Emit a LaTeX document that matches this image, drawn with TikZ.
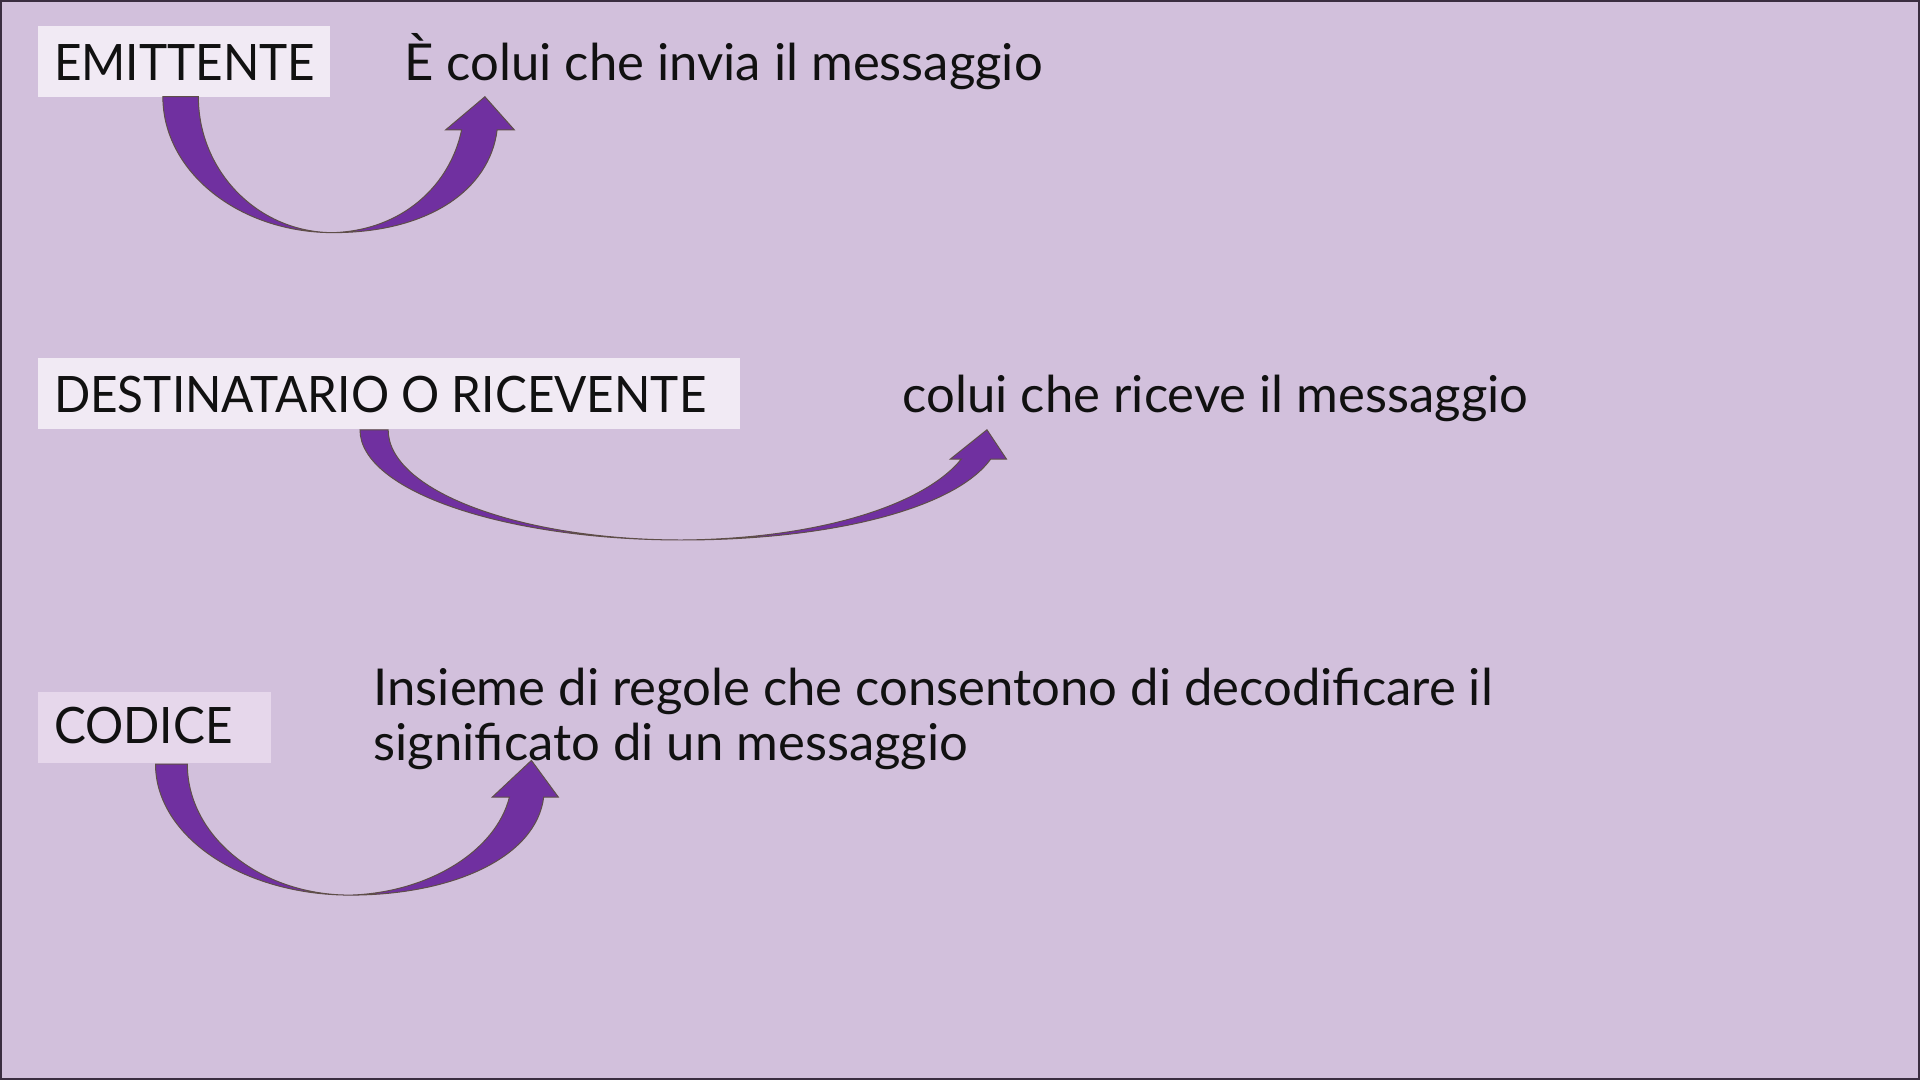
\documentclass[tikz,border=0pt]{standalone}
\usepackage{fontspec}
\setmainfont{Lato}
\newfontfamily\capsfont[FakeStretch=0.95]{Lato}
\definecolor{bgcol}{HTML}{D2C0DC}
\definecolor{boxA}{HTML}{F1EAF4}
\definecolor{boxB}{HTML}{E6D7EB}
\definecolor{arrfill}{HTML}{7030A0}
\definecolor{arredge}{HTML}{5E4E48}
\definecolor{frame}{HTML}{3A2D40}
\definecolor{txt}{HTML}{111111}
\tikzset{
  labelbox/.style={fill=#1, draw=none, inner sep=0pt, anchor=north west},
  txtlbl/.style={inner sep=0pt, anchor=base west, text=txt, font=\fontsize{41.5}{45}\selectfont},
  capslbl/.style={txtlbl, font=\capsfont\fontsize{41}{45}\selectfont},
  curvarrow/.style={fill=arrfill, draw=arredge, line width=0.8pt, line join=miter},
}
\begin{document}
\begin{tikzpicture}[x=1pt,y=-1pt]
\fill[bgcol] (0,0) rectangle (1568,882);
\useasboundingbox (0,0) rectangle (1568,882);
\draw[frame, line width=1.5pt] (0.75,0.75) rectangle (1567.25,881.25);

% boxes
\node[labelbox=boxA, minimum width=238pt, minimum height=58pt] (emitBox) at (31,21) {};
\node[labelbox=boxA, minimum width=573pt, minimum height=58pt] (destBox) at (31,292) {};
\node[labelbox=boxB, minimum width=190pt, minimum height=58pt] (codBox) at (31,565) {};

% labels
\node[capslbl] (emit) at (44,66) {EMITTENTE};
\node[txtlbl] (emitDef) at (330,66) {È colui che invia il messaggio};
\node[capslbl] (dest) at (44,337) {DESTINATARIO O RICEVENTE};
\node[txtlbl] (destDef) at (737,337) {colui che riceve il messaggio};
\node[capslbl] (cod) at (44,607) {CODICE};
\node[txtlbl] (codDefA) at (305,576) {Insieme di regole che consentono di decodificare il};
\node[txtlbl] (codDefB) at (305,621) {significato di un messaggio};

% arrow 1
\draw[curvarrow] (133,79) .. controls (133,140.3) and (195.2,190) .. (272,190)
  .. controls (350,190) and (400,155) .. (406,106)
  -- (420,106) -- (396,79) -- (364,106) -- (377,106)
  .. controls (368,150) and (330,188) .. (272,190)
  .. controls (211.2,190) and (162,140.3) .. (162,79) -- cycle;

% arrow 2
\draw[curvarrow] (294,351) .. controls (294,400.7) and (411.7,441) .. (557,441)
  .. controls (680,441) and (780,415) .. (809,375)
  -- (822,375) -- (806,351) -- (776,375) -- (785,375)
  .. controls (755,412) and (670,440) .. (557,441)
  .. controls (424.4,441) and (317,400.7) .. (317,351) -- cycle;

% arrow 3
\draw[curvarrow] (127,624) .. controls (127,683.1) and (198.2,731) .. (286,731)
  .. controls (370,731) and (438,700) .. (444,651)
  -- (456,651) -- (434,621) -- (402,651) -- (416,651)
  .. controls (405,695) and (350,729) .. (286,731)
  .. controls (212.5,731) and (153,683.1) .. (153,624) -- cycle;
\end{tikzpicture}
\end{document}
